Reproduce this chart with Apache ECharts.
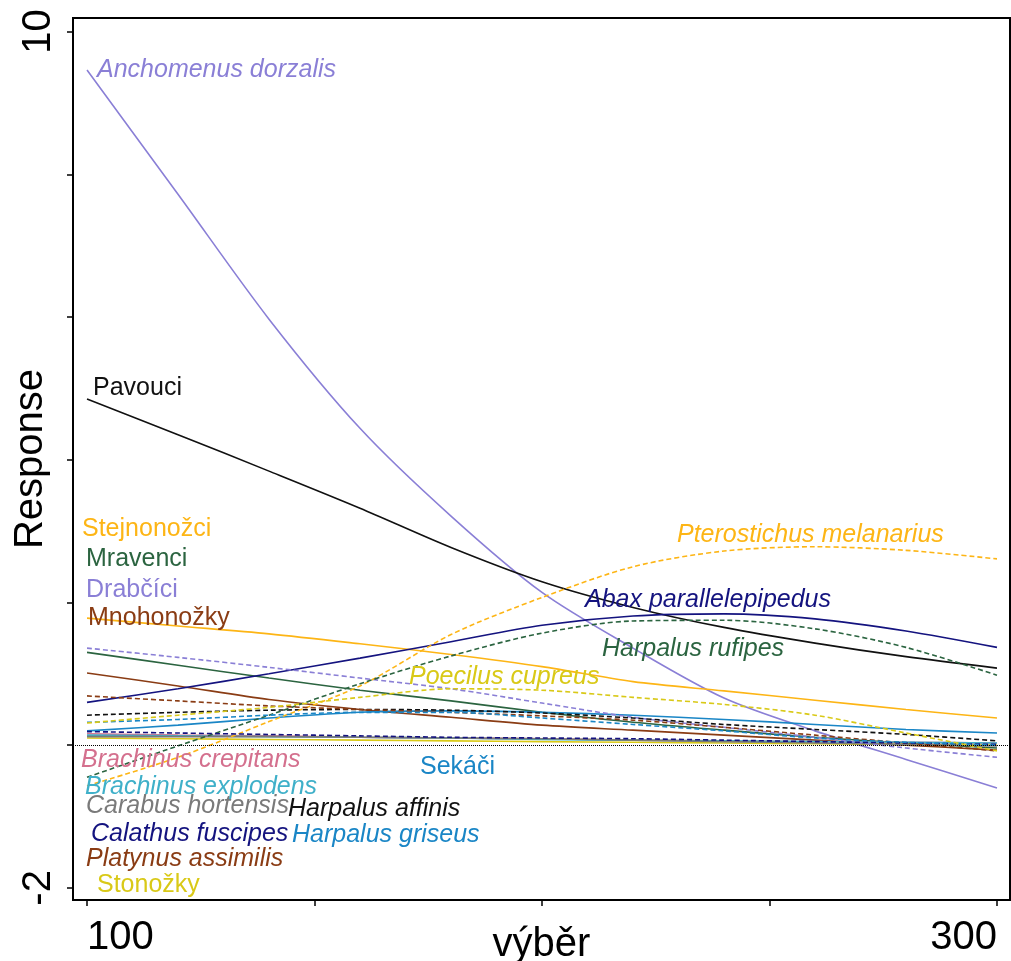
<!DOCTYPE html>
<html>
<head>
<meta charset="utf-8">
<script src="https://cdn.jsdelivr.net/npm/echarts@6/dist/echarts.min.js"></script>
<style>
  html, body { margin: 0; padding: 0; background: #fff; }
  #chart { width: 1011px; height: 961px; }
</style>
</head>
<body>
<div id="chart"></div>
<script>
// x values (výběr)
const xs = [100, 120, 140, 160, 180, 200, 220, 240, 260, 280, 300];

// response curves
const anchomenus   = [9.46, 7.72, 5.97, 4.44, 3.21, 2.14, 1.36, 0.66, 0.20, -0.20, -0.60];
const pavouci      = [4.85, 4.35, 3.84, 3.32, 2.77, 2.29, 1.93, 1.65, 1.43, 1.24, 1.08];
const stejnonozci  = [1.78, 1.67, 1.56, 1.42, 1.27, 1.10, 0.89, 0.76, 0.63, 0.50, 0.38];
const mravenci     = [1.30, 1.12, 0.94, 0.77, 0.62, 0.46, 0.32, 0.21, 0.11, 0.03, -0.04];
const mnohonozky   = [1.01, 0.83, 0.64, 0.50, 0.39, 0.28, 0.21, 0.14, 0.07, 0.00, -0.07];
const abax         = [0.60, 0.79, 1.00, 1.22, 1.45, 1.68, 1.81, 1.84, 1.77, 1.60, 1.37];
const sekaci       = [0.20, 0.28, 0.38, 0.46, 0.48, 0.46, 0.42, 0.36, 0.29, 0.22, 0.17];
const stonozky     = [0.10, 0.09, 0.08, 0.07, 0.06, 0.05, 0.04, 0.03, 0.02, 0.01, 0.00];
const crepitans    = [0.16, 0.14, 0.13, 0.11, 0.10, 0.09, 0.07, 0.06, 0.05, 0.04, 0.03];
const explodens    = [0.14, 0.13, 0.12, 0.11, 0.10, 0.08, 0.07, 0.06, 0.05, 0.04, 0.03];
const hortensis    = [0.12, 0.12, 0.12, 0.11, 0.10, 0.09, 0.07, 0.05, 0.03, 0.01, -0.01];
// dashed ones
const drabcici     = [1.36, 1.23, 1.09, 0.94, 0.79, 0.59, 0.39, 0.25, 0.11, -0.04, -0.17];
const affinis      = [0.42, 0.46, 0.49, 0.50, 0.49, 0.45, 0.38, 0.29, 0.22, 0.15, 0.06];
const pterostichus = [-0.57, -0.17, 0.33, 0.83, 1.55, 2.07, 2.50, 2.72, 2.78, 2.73, 2.61];
const rufipes      = [-0.45, -0.01, 0.42, 0.86, 1.25, 1.57, 1.74, 1.75, 1.63, 1.37, 0.98];
const platynus     = [0.69, 0.62, 0.55, 0.50, 0.46, 0.41, 0.35, 0.25, 0.14, 0.03, -0.08];
const calathus     = [0.19, 0.17, 0.15, 0.13, 0.11, 0.10, 0.09, 0.07, 0.05, 0.03, 0.01];
const griseus      = [0.32, 0.36, 0.42, 0.46, 0.46, 0.38, 0.29, 0.20, 0.10, 0.04, 0.00];
const poecilus     = [0.31, 0.42, 0.53, 0.67, 0.79, 0.77, 0.67, 0.57, 0.42, 0.17, -0.08];

const xTicks = [100, 150, 200, 250, 300];
const xTickLabels = [100, 300];
const yTicks = [-2, 0, 2, 4, 6, 8, 10];
const yTickLabels = [-2, 10];

const C = {
  lav: '#8a7fd6', black: '#111111', orange: '#fdb515', green: '#2b6440',
  brown: '#8a3c14', navy: '#14137f', blue: '#1a86c6', yellow: '#d9c917',
  pink: '#d4708e', teal: '#3fb0c9', gray: '#7a7a7a'
};

const curves = [
  ['Anchomenus dorzalis', anchomenus, C.lav, 'solid'],
  ['Pavouci', pavouci, C.black, 'solid'],
  ['Stejnonožci', stejnonozci, C.orange, 'solid'],
  ['Mravenci', mravenci, C.green, 'solid'],
  ['Mnohonožky', mnohonozky, C.brown, 'solid'],
  ['Abax parallelepipedus', abax, C.navy, 'solid'],
  ['Sekáči', sekaci, C.blue, 'solid'],
  ['Stonožky', stonozky, C.yellow, 'solid'],
  ['Brachinus crepitans', crepitans, C.pink, 'solid'],
  ['Brachinus explodens', explodens, C.teal, 'solid'],
  ['Carabus hortensis', hortensis, C.gray, 'solid'],
  ['Drabčíci', drabcici, C.lav, 'dashed'],
  ['Harpalus affinis', affinis, C.black, 'dashed'],
  ['Pterostichus melanarius', pterostichus, C.orange, 'dashed'],
  ['Harpalus rufipes', rufipes, C.green, 'dashed'],
  ['Platynus assimilis', platynus, C.brown, 'dashed'],
  ['Calathus fuscipes', calathus, C.navy, 'dashed'],
  ['Harpalus griseus', griseus, C.blue, 'dashed'],
  ['Poecilus cupreus', poecilus, C.yellow, 'dashed']
];

// curve labels: text, colour, italic, left x, middle y (px)
const labels = [
  ['Anchomenus dorzalis', C.lav, true, 97, 68],
  ['Pavouci', C.black, false, 93, 386],
  ['Stejnonožci', C.orange, false, 82, 527],
  ['Mravenci', C.green, false, 86, 557],
  ['Drabčíci', C.lav, false, 86, 588],
  ['Mnohonožky', C.brown, false, 88, 616],
  ['Pterostichus melanarius', C.orange, true, 677, 533],
  ['Abax parallelepipedus', C.navy, true, 585, 598],
  ['Harpalus rufipes', C.green, true, 602, 647],
  ['Poecilus cupreus', C.yellow, true, 409, 675],
  ['Brachinus crepitans', C.pink, true, 81, 758],
  ['Sekáči', C.blue, false, 420, 765],
  ['Brachinus explodens', C.teal, true, 85, 785],
  ['Carabus hortensis', C.gray, true, 86, 804],
  ['Harpalus affinis', C.black, true, 288, 807],
  ['Calathus fuscipes', C.navy, true, 91, 832],
  ['Harpalus griseus', C.blue, true, 292, 833],
  ['Platynus assimilis', C.brown, true, 86, 857],
  ['Stonožky', C.yellow, false, 97, 883]
];

const FONT = '"Liberation Sans", Arial, sans-serif';

const series = curves.map(function (c, i) {
  const s = {
    name: c[0],
    type: 'line',
    data: xs.map(function (x, k) { return [x, c[1][k]]; }),
    showSymbol: false,
    smooth: 0.3,
    silent: true,
    lineStyle: { color: c[2], width: 1.6, type: c[3] === 'dashed' ? [5, 3] : 'solid' },
    z: 3
  };
  if (i === 0) {
    s.markLine = {
      silent: true,
      symbol: 'none',
      label: { show: false },
      lineStyle: { color: '#000', width: 1, type: [1, 1] },
      data: [{ yAxis: 0 }]
    };
  }
  return s;
});

const graphic = labels.map(function (l) {
  return {
    type: 'text',
    left: l[3],
    top: l[4] - 10,
    z: 10,
    style: {
      text: l[0],
      fill: l[1],
      font: (l[2] ? 'italic ' : '') + '25px ' + FONT
    }
  };
});

const chart = echarts.init(document.getElementById('chart'));
chart.setOption({
  animation: false,
  backgroundColor: '#fff',
  grid: {
    left: 73, right: 1, top: 18, bottom: 61,
    containLabel: false,
    outerBoundsMode: 'none',
    show: true, borderColor: '#000', borderWidth: 2
  },
  xAxis: {
    type: 'value',
    min: 96.92, max: 302.86,
    name: 'výběr',
    nameLocation: 'middle',
    nameGap: 25,
    nameMoveOverlap: false,
    nameTextStyle: { fontFamily: FONT, fontSize: 40, color: '#000' },
    splitLine: { show: false },
    axisLine: { onZero: false, lineStyle: { color: '#000', width: 2 } },
    axisTick: { customValues: xTicks, length: 6, lineStyle: { color: '#000', width: 1.5 } },
    axisLabel: {
      customValues: xTickLabels,
      fontFamily: FONT, fontSize: 40, color: '#000', margin: 18,
      alignMinLabel: 'left', alignMaxLabel: 'right'
    }
  },
  yAxis: {
    type: 'value',
    min: -2.17, max: 10.19,
    name: 'Response',
    nameLocation: 'middle',
    nameGap: 22,
    nameMoveOverlap: false,
    nameTextStyle: { fontFamily: FONT, fontSize: 40, color: '#000' },
    splitLine: { show: false },
    axisLine: { onZero: false, lineStyle: { color: '#000', width: 2 } },
    axisTick: { customValues: yTicks, length: 6, lineStyle: { color: '#000', width: 1.5 } },
    axisLabel: {
      customValues: yTickLabels,
      rotate: 90,
      fontFamily: FONT, fontSize: 40, color: '#000', margin: 14
    }
  },
  graphic: graphic,
  series: series
});
</script>
</body>
</html>
